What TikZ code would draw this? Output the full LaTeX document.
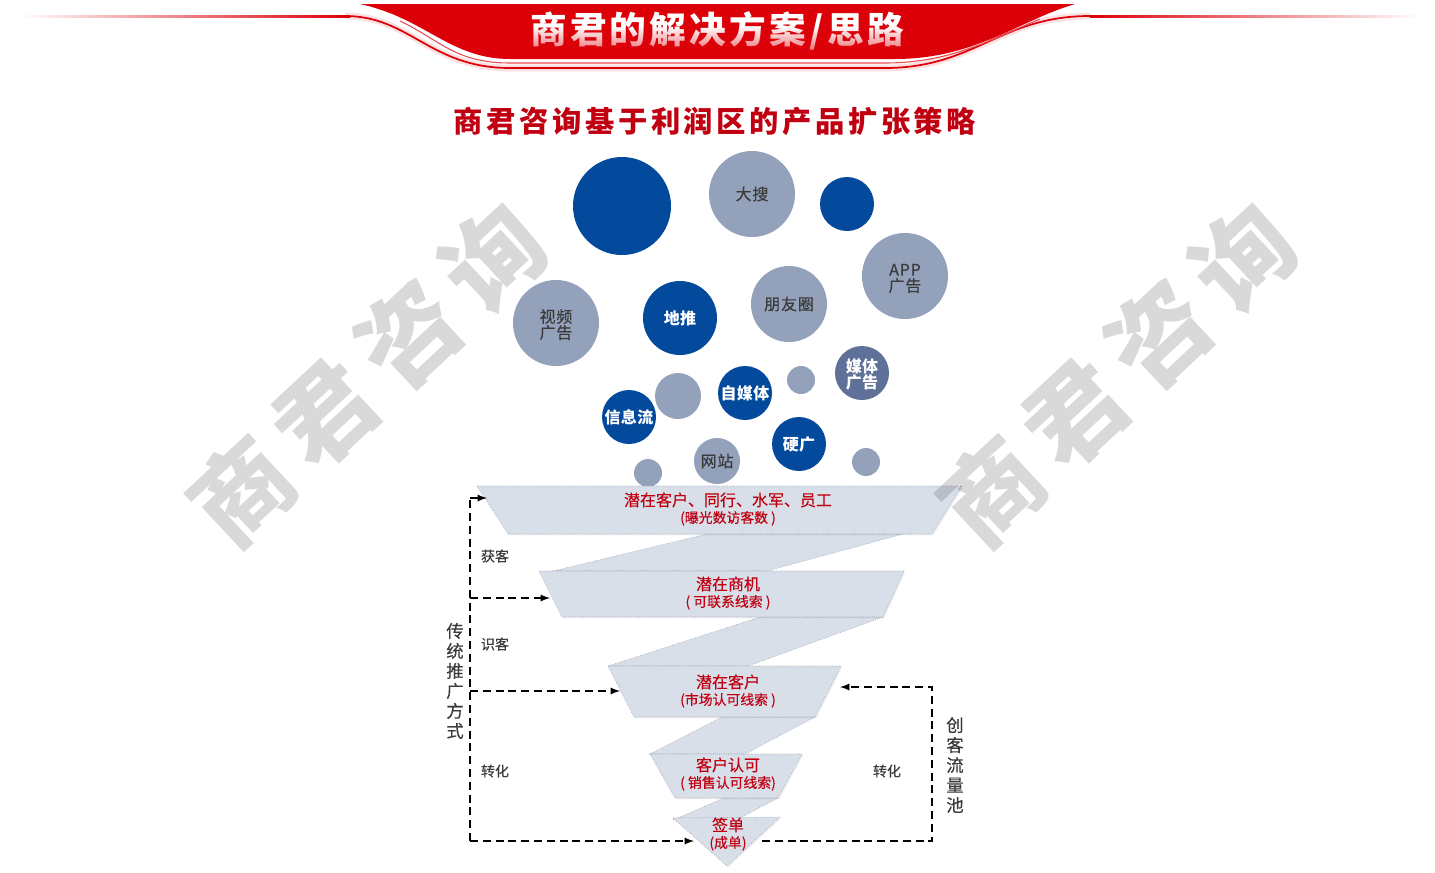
\documentclass[tikz,border=0pt]{standalone}
\usepackage{fontspec}
\usepackage{xcolor}
\usetikzlibrary{shadows,fadings}
\setmainfont{Noto Sans CJK SC}
\newfontfamily\bannerfont[LetterSpace=9]{Noto Sans CJK SC}
\newfontfamily\headfont[LetterSpace=12]{Noto Sans CJK SC}
\newfontfamily\markfont[LetterSpace=16]{Noto Sans CJK SC}
\newfontfamily\tagfont[LetterSpace=5,FakeBold=0.25]{Noto Sans CJK SC}
\newfontfamily\whitefont[LetterSpace=3]{Noto Sans CJK SC}
\newfontfamily\solidfont[FakeBold=0.25]{Noto Sans CJK SC}
\definecolor{brandred}{HTML}{DC0008}
\definecolor{textred}{HTML}{C00010}
\definecolor{bubbleblue}{HTML}{03499C}
\definecolor{bubblegray}{HTML}{93A1BB}
\definecolor{bubbleslate}{HTML}{5F7198}
\definecolor{funnelfill}{HTML}{D9DFE9}
\definecolor{funneledge}{HTML}{8792A8}
\definecolor{labelgray}{HTML}{3A3A3A}
\newcommand{\tightlines}{\lineskiplimit -20pt\relax}
\tikzset{
    bubble/.style = {circle, inner sep=0pt, align=center, font=\tightlines\tagfont\fontsize{12}{12}\selectfont},
    bubble-blue/.style = {bubble, fill=bubbleblue, text=white, font=\tightlines\whitefont\bfseries\fontsize{12}{12}\selectfont},
    bubble-gray/.style = {bubble, fill=bubblegray, text=labelgray},
    bubble-slate/.style = {bubble, fill=bubbleslate, text=white, font=\tightlines\whitefont\bfseries\fontsize{12}{12}\selectfont},
    funnel-layer/.style = {fill=funnelfill, draw=funneledge, densely dotted, thin, drop shadow={opacity=0.12, shadow xshift=1pt, shadow yshift=-1pt}},
    funnel-link/.style = {fill=funnelfill, draw=funneledge, densely dotted, thin},
    funnel-text/.style = {text=textred, align=center, inner sep=0pt, font=\tightlines\solidfont\fontsize{12}{12.6}\selectfont},
    stage-label/.style = {text=labelgray, inner sep=0pt, font=\solidfont\fontsize{10.5}{12}\selectfont},
    side-label/.style = {text=labelgray, inner sep=0pt, align=center, font=\tightlines\solidfont\fontsize{13}{15}\selectfont},
    dash-line/.style = {draw=black, line width=1.4pt, dash pattern=on 6pt off 3.6pt},
    dash-arrow/.style = {dash-line, -latex},
    water-mark/.style = {rotate=43, text=black, text opacity=0.15, inner sep=0pt, font=\markfont\bfseries\fontsize{74}{80}\selectfont},
}
\newcommand{\subline}[1]{{\fontsize{10.4}{12.6}\selectfont #1}}
\newcommand{\toplift}{\rule{0pt}{12.5pt}}
\begin{document}
\begin{tikzpicture}[x=0.75pt, y=-0.75pt]
\useasboundingbox (0,0) rectangle (1435,872);

% banner
\fill[left color=white, right color=brandred, draw=none] (20,15) rectangle (350,17);
\fill[left color=brandred, right color=white, draw=none] (1090,15) rectangle (1420,17);
\draw[brandred, line width=5pt, opacity=0.12] (345,16) .. controls (410,16) and (430,68) .. (510,68) -- (885,68) .. controls (975,68) and (1000,16) .. (1090,16);
\fill[brandred] (360,4) -- (1075,4) .. controls (1020,20) and (975,59) .. (895,59) -- (510,59) .. controls (450,59) and (425,18) .. (360,4) -- cycle;
\draw[brandred, line width=1.3pt] (345,16) .. controls (410,16) and (430,68) .. (510,68) -- (885,68) .. controls (975,68) and (1000,16) .. (1090,16);
\draw[brandred!70, line width=0.8pt] (400,21) .. controls (440,40) and (455,63) .. (510,63) -- (885,63) .. controls (950,63) and (990,40) .. (1040,19);
\node[text=white, inner sep=0pt, font=\bannerfont\bfseries\fontsize{27.5}{29}\selectfont] (banner-title) at (717,31) {商君的解决方案/思路};
\fill[brandred, fill opacity=0.6, path fading=north] (520,26) rectangle (915,53);

\node[text=textred, inner sep=0pt, font=\headfont\bfseries\fontsize{22}{24}\selectfont] (main-title) at (715,121) {商君咨询基于利润区的产品扩张策略};

% bubbles
\node[bubble-blue, minimum size=98*0.75pt] (big-blue) at (622,206) {};
\node[bubble-gray, minimum size=86*0.75pt] (da-sou) at (752,194) {大搜};
\node[bubble-blue, minimum size=54*0.75pt] (small-blue) at (847,204) {};
\node[bubble-gray, minimum size=86*0.75pt] (app-ad) at (905,276) {\toplift APP\\广告};
\node[bubble-gray, minimum size=76*0.75pt] (friends) at (789,304) {朋友圈};
\node[bubble-blue, minimum size=74*0.75pt] (di-tui) at (680,318) {地推};
\node[bubble-gray, minimum size=86*0.75pt] (video-ad) at (556,323) {\toplift 视频\\广告};
\node[bubble-slate, minimum size=54*0.75pt] (media-ad) at (862,373) {\toplift 媒体\\广告};
\node[bubble-gray, minimum size=28*0.75pt] (dot-a) at (801,380) {};
\node[bubble-blue, minimum size=54*0.75pt] (self-media) at (745,393) {自媒体};
\node[bubble-gray, minimum size=46*0.75pt] (dot-b) at (678,396) {};
\node[bubble-blue, minimum size=54*0.75pt] (feed) at (629,417) {信息流};
\node[bubble-blue, minimum size=54*0.75pt] (ying-guang) at (799,444) {硬广};
\node[bubble-gray, minimum size=46*0.75pt] (site) at (717,461) {网站};
\node[bubble-gray, minimum size=28*0.75pt] (dot-c) at (648,473) {};
\node[bubble-gray, minimum size=28*0.75pt] (dot-d) at (866,462) {};

% funnel
\draw[funnel-link] (707,534) -- (903,534) -- (767,571) -- (553,571) -- cycle;
\draw[funnel-link] (760,617) -- (883,617) -- (748,666) -- (608,666) -- cycle;
\draw[funnel-link] (722,717) -- (815,717) -- (745,754) -- (650,754) -- cycle;
\draw[funnel-link] (724,798) -- (778,798) -- (740,818) -- (673,820) -- cycle;
\draw[funnel-layer] (477,486) -- (962,486) -- (932,534) -- (508,534) -- cycle;
\draw[funnel-layer] (539,571) -- (904,571) -- (883,617) -- (562,617) -- cycle;
\draw[funnel-layer] (608,666) -- (841,666) -- (815,717) -- (634,717) -- cycle;
\draw[funnel-layer] (650,754) -- (802,754) -- (778,798) -- (675,798) -- cycle;
\draw[funnel-layer] (673,818) -- (780,817) -- (727,866) -- cycle;

\node[funnel-text] (layer-one) at (728,509) {潜在客户、同行、水军、员工\\\subline{(曝光数访客数 )}};
\node[funnel-text] (layer-two) at (728,593) {潜在商机\\\subline{( 可联系线索 )}};
\node[funnel-text] (layer-three) at (728,691) {潜在客户\\\subline{(市场认可线索 )}};
\node[funnel-text] (layer-four) at (728,774) {客户认可\\\subline{( 销售认可线索)}};
\node[funnel-text] (layer-five) at (728,834) {签单\\\subline{(成单)}};

\node[stage-label] (get-label) at (495,556) {获客};
\node[stage-label] (know-label) at (495,644) {识客};
\node[stage-label] (turn-left) at (495,771) {转化};
\node[stage-label] (turn-right) at (887,771) {转化};
\node[side-label] (old-way) at (455,681) {传\\统\\推\\广\\方\\式};
\node[side-label] (new-pool) at (955,765) {创\\客\\流\\量\\池};

% dashed rails
\coordinate (rail-top) at (470,498);
\coordinate (rail-two) at (470,598);
\coordinate (rail-three) at (470,691);
\coordinate (rail-bottom) at (470,841);
\coordinate (in-one) at (487,498);
\coordinate (in-two) at (550,598);
\coordinate (in-three) at (620,691);
\coordinate (in-five) at (694,841);
\coordinate (out-five) at (762,841);
\coordinate (pool-low) at (932,841);
\coordinate (pool-high) at (932,687);
\coordinate (in-back) at (840,687);
\draw[dash-line] (rail-bottom) -- (rail-top);
\draw[dash-arrow] (rail-top) -- (in-one);
\draw[dash-arrow] (rail-two) -- (in-two);
\draw[dash-arrow] (rail-three) -- (in-three);
\draw[dash-arrow] (rail-bottom) -- (in-five);
\draw[dash-arrow] (out-five) -- (pool-low) -- (pool-high) -- (in-back);

% watermarks
\node[water-mark] (mark-left) at (367,374) {商君咨询};
\node[water-mark] (mark-right) at (1117,374) {商君咨询};
\end{tikzpicture}
\end{document}
